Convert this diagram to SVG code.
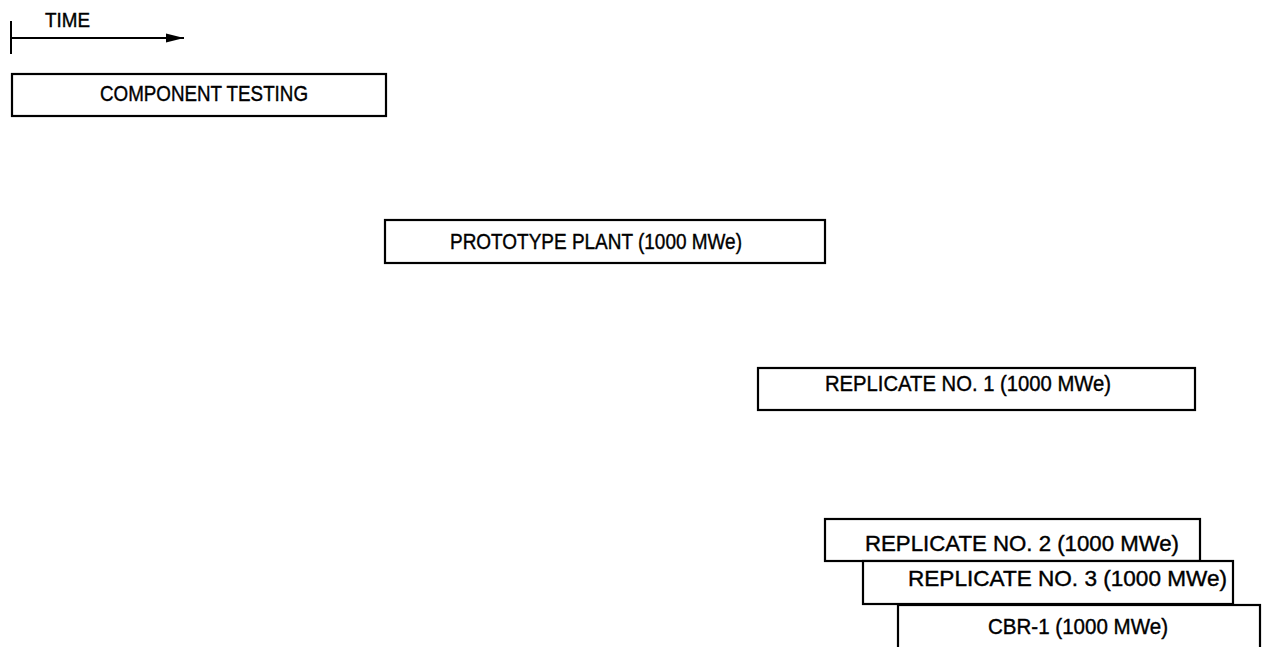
<svg xmlns="http://www.w3.org/2000/svg" width="1264" height="647" viewBox="0 0 1264 647">
<style>
.box{fill:#fff;stroke:#000;stroke-width:2.2}
.t{font-family:"Liberation Sans",Arial,sans-serif;font-size:22px;fill:#000;stroke:#000;stroke-width:0.4}
.ln{stroke:#000;stroke-width:2;fill:none}
</style>
<defs>
<marker id="ah" markerWidth="18" markerHeight="10" refX="18" refY="5" orient="auto" markerUnits="userSpaceOnUse">
<path d="M0,0.5 L18,5 L0,9.5 Z" fill="#000"/>
</marker>
</defs>
<g id="connectors">
<line class="ln" x1="11" y1="21" x2="11" y2="54"/>
<line class="ln" x1="11" y1="38" x2="184" y2="38" marker-end="url(#ah)"/>
<text class="t" x="45" y="27" textLength="45" lengthAdjust="spacingAndGlyphs" style="font-size:20px">TIME</text>
</g>
<g id="component-testing">
<rect class="box" x="12" y="74" width="374" height="42"/>
<text class="t" x="100" y="101" textLength="208" lengthAdjust="spacingAndGlyphs">COMPONENT TESTING</text>
</g>
<g id="prototype">
<rect class="box" x="385" y="220" width="440" height="43"/>
<text class="t" x="450" y="249" textLength="292" lengthAdjust="spacingAndGlyphs">PROTOTYPE PLANT (1000 MWe)</text>
</g>
<g id="replicate1">
<rect class="box" x="758" y="368" width="437" height="42"/>
<text class="t" x="825" y="391" textLength="286" lengthAdjust="spacingAndGlyphs">REPLICATE NO. 1 (1000 MWe)</text>
</g>
<g id="replicate2">
<rect class="box" x="825" y="519" width="375" height="42"/>
<text class="t" x="865" y="551" textLength="314" lengthAdjust="spacingAndGlyphs">REPLICATE NO. 2 (1000 MWe)</text>
</g>
<g id="replicate3">
<rect class="box" x="863" y="561" width="370" height="43"/>
<text class="t" x="908" y="586" textLength="319" lengthAdjust="spacingAndGlyphs">REPLICATE NO. 3 (1000 MWe)</text>
</g>
<g id="cbr1">
<rect class="box" x="898" y="605" width="362" height="46"/>
<text class="t" x="988" y="634" textLength="180" lengthAdjust="spacingAndGlyphs">CBR-1 (1000 MWe)</text>
</g>
</svg>
